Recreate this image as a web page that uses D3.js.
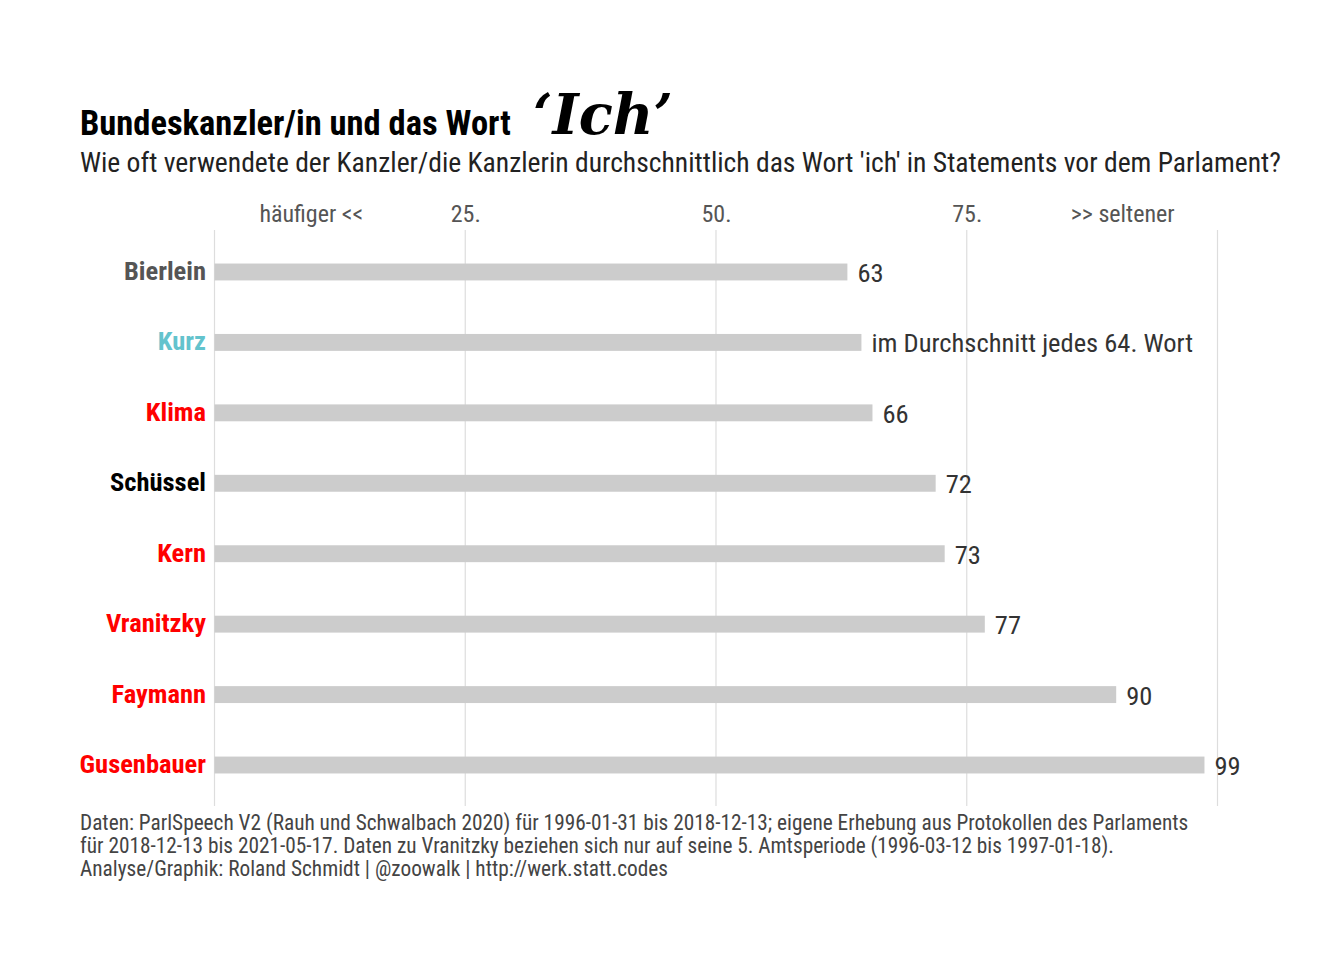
<!DOCTYPE html>
<html><head><meta charset="utf-8">
<script src="https://cdn.jsdelivr.net/npm/d3@7"></script>
<style>
body{margin:0;background:#fff;}
svg text{font-family:"Roboto Condensed","Liberation Sans Narrow","DejaVu Sans Condensed",Roboto,sans-serif;}
</style></head>
<body>
<script>
const names = ["Bierlein","Kurz","Klima","Schüssel","Kern","Vranitzky","Faymann","Gusenbauer"];
const values = [63.1,64.5,65.6,71.9,72.8,76.8,89.9,98.7];
const labels = ["63","im Durchschnitt jedes 64. Wort","66","72","73","77","90","99"];
const nameColors = ["#555555","#63c3cd","#ff0000","#000000","#ff0000","#ff0000","#ff0000","#ff0000"];
const gridValues = [0,25,50,75,100];
const tickValues = [9.6,25,50,75,90.5];
const tickLabels = ["häufiger <<","25.","50.","75.",">> seltener"];

const W=1344,H=960;
const svg=d3.select("body").append("svg").attr("width",W).attr("height",H);
svg.append("rect").attr("width",W).attr("height",H).attr("fill","#fff");

const x=d3.scaleLinear().domain([0,100]).range([214.5,1217.5]);
const y=d3.scaleBand().domain(names).range([210,827]).padding(0.76);

// gridlines
svg.append("g").selectAll("line").data(gridValues).join("line")
 .attr("x1",d=>x(d)).attr("x2",d=>x(d)).attr("y1",230).attr("y2",806)
 .attr("stroke","#dddddd").attr("stroke-width",1.2);

// top axis labels
const ax=d3.axisTop(x).tickValues(tickValues).tickFormat((d,i)=>tickLabels[i]).tickSize(0).tickPadding(0);
const axg=svg.append("g").attr("transform","translate(0,222)").call(ax);
axg.select(".domain").remove();
axg.selectAll("text").attr("font-size",24).attr("fill","#555").attr("font-family",null);

// bars
svg.append("g").selectAll("rect").data(names).join("rect")
 .attr("x",x(0)).attr("y",d=>y(d)).attr("height",y.bandwidth())
 .attr("width",(d,i)=>x(values[i])-x(0)).attr("fill","#cccccc");

// value labels
svg.append("g").selectAll("text").data(names).join("text")
 .attr("x",(d,i)=>x(values[i])+10).attr("y",d=>y(d)+y.bandwidth()/2+10)
 .attr("font-size",26.5).attr("fill","#333")
 .text((d,i)=>labels[i]);

// name labels
svg.append("g").selectAll("text").data(names).join("text")
 .attr("x",206).attr("y",d=>y(d)+y.bandwidth()/2+8)
 .attr("text-anchor","end").attr("font-size",26.5).attr("font-weight","bold")
 .attr("fill",(d,i)=>nameColors[i]).text(d=>d);

// title
svg.append("text").attr("x",80).attr("y",135).attr("font-size",34.5).attr("font-weight","bold").attr("fill","#000")
 .text("Bundeskanzler/in und das Wort");
svg.append("text").attr("x",533).attr("y",134).attr("font-size",56).attr("font-style","italic").attr("font-weight","bold")
 .style("font-family","'DejaVu Serif',serif").attr("fill","#000").text("‘Ich’");
svg.append("text").attr("x",80).attr("y",172).attr("font-size",27.6).attr("fill","#222")
 .text("Wie oft verwendete der Kanzler/die Kanzlerin durchschnittlich das Wort 'ich' in Statements vor dem Parlament?");

// caption
const cap=["Daten: ParlSpeech V2 (Rauh und Schwalbach 2020) für 1996-01-31 bis 2018-12-13; eigene Erhebung aus Protokollen des Parlaments",
"für 2018-12-13 bis 2021-05-17. Daten zu Vranitzky beziehen sich nur auf seine 5. Amtsperiode (1996-03-12 bis 1997-01-18).",
"Analyse/Graphik: Roland Schmidt | @zoowalk | http://werk.statt.codes"];
svg.append("g").selectAll("text").data(cap).join("text")
 .attr("x",80).attr("y",(d,i)=>830+i*23).attr("font-size",21.3).attr("fill","#444").text(d=>d);
</script>
</body></html>
